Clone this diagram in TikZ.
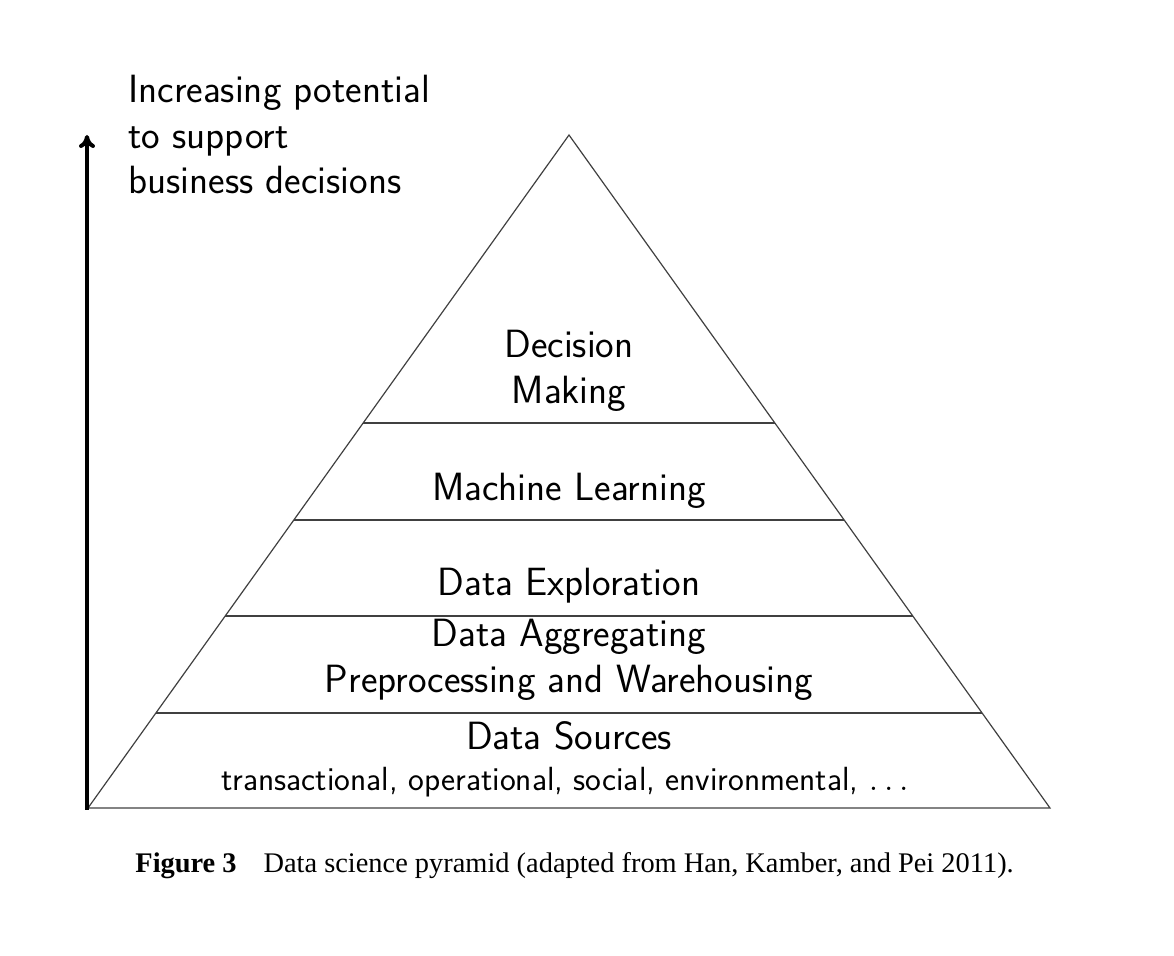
\documentclass[tikz,border=0pt]{standalone}
\usepackage{fontspec}
\newfontfamily\capfont{Liberation Serif}
\usetikzlibrary{calc,arrows.meta}
\begin{document}
\begin{tikzpicture}[x=0.5pt,y=-0.5pt,
  lbl/.style={font=\sffamily\fontsize{19.7}{22.7}\selectfont, inner sep=0pt, align=center},
  small/.style={font=\sffamily\fontsize{16.75}{18}\selectfont, inner sep=0pt},
  tier/.style={line width=0.6pt, draw=black!75},
  axis/.style={line width=2pt, -{To[length=6.5pt,width=8pt]}}]
\useasboundingbox (0,0) rectangle (1174,956);
\coordinate (A) at (569,135);
\coordinate (BL) at (88,808);
\coordinate (BR) at (1050,808);
\draw[tier] (BL) -- (A) -- (BR) -- cycle;
\foreach \n/\t in {1/0.4279,2/0.5721,3/0.7147,4/0.8588}{
  \coordinate (L\n) at ($(A)!\t!(BL)$);
  \coordinate (R\n) at ($(A)!\t!(BR)$);
  \draw[tier] (L\n) -- (R\n);
}
\coordinate (ab) at (87,810);
\coordinate (at) at (87,135);
\draw[axis] (ab) -- (at);
\node[lbl, anchor=north west, align=left] (axlbl) at (128,75) {Increasing potential\\to support\\business decisions};
\node[lbl] (dm) at (569,371) {Decision\\Making};
\node[lbl] (ml) at (569,491) {Machine Learning};
\node[lbl] (de) at (569,586) {Data Exploration};
\node[lbl] (da) at (569,660) {Data Aggregating\\Preprocessing and Warehousing};
\node[lbl] (ds) at (569,736) {Data Sources};
\node[small] (dsx) at (565,782) {transactional, operational, social, environmental, $\ldots$};
\node[anchor=base west, inner sep=0pt, font=\capfont\fontsize{14.2}{16}\selectfont] (cap) at (135,873) {\textbf{Figure 3}\hspace{0.95em}Data science pyramid (adapted from Han, Kamber, and Pei 2011).};
\end{tikzpicture}
\end{document}
